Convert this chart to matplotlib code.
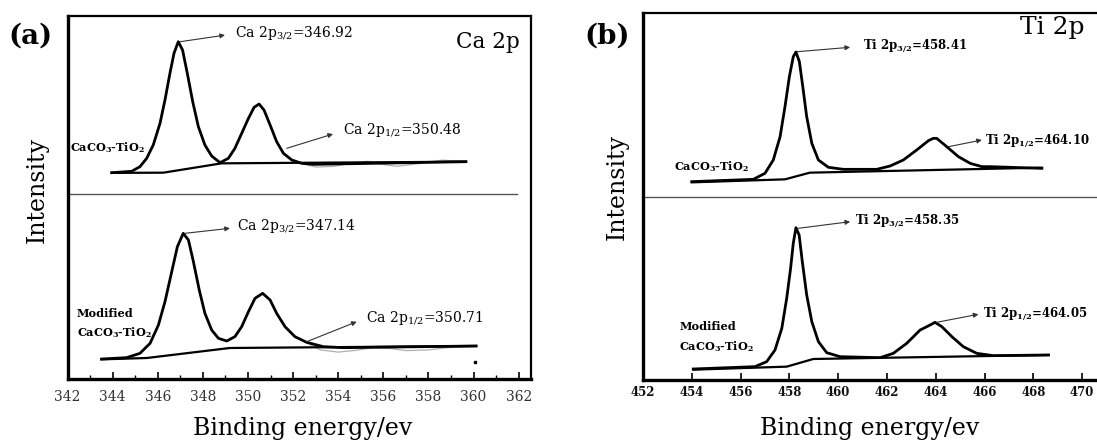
import matplotlib
matplotlib.use("Agg")
import matplotlib.pyplot as plt
from matplotlib.ticker import MultipleLocator

plt.rcParams['font.family'] = ['DejaVu Serif']
plt.rcParams['mathtext.fontset'] = 'dejavuserif'

# ---- Ca 2p, CaCO3-TiO2 (upper trace)
ca_top_x = [343.96, 344.84, 345.21, 345.51, 345.80, 346.10, 346.32, 346.54, 346.72, 346.91,
            347.10, 347.31, 347.55, 347.80, 348.09, 348.39, 348.76, 349.13, 349.42, 349.72,
            350.02, 350.27, 350.49, 350.71, 350.98, 351.27, 351.57, 351.94, 352.38, 352.90, 359.66]
ca_top_y = [56.76, 57.13, 58.41, 60.71, 64.37, 70.34, 76.75, 84.09, 89.59, 92.80,
            90.51, 84.09, 76.29, 69.42, 64.37, 61.35, 59.51, 60.71, 63.46, 67.58,
            71.71, 74.74, 75.65, 74.00, 69.88, 65.29, 62.08, 60.25, 59.33, 59.05, 59.78]
ca_top_bg_x = [343.96, 346.25, 348.83, 359.66]
ca_top_bg_y = [56.70, 56.76, 59.33, 59.78]
# faint raw data visible in the tail
ca_top_raw_x = [352.4, 353.0, 353.8, 354.6, 355.3, 356.0, 356.6, 357.5, 358.6, 359.5]
ca_top_raw_y = [59.3, 58.3, 58.5, 59.4, 59.9, 59.0, 58.5, 59.2, 60.2, 59.9]

# ---- Ca 2p, modified CaCO3-TiO2 (lower trace)
ca_bot_x = [343.51, 344.62, 345.21, 345.66, 346.03, 346.32, 346.62, 346.87, 347.13, 347.36,
            347.58, 347.84, 348.09, 348.39, 348.69, 349.06, 349.42, 349.72, 350.02, 350.31,
            350.65, 350.98, 351.27, 351.64, 352.08, 352.60, 353.34, 354.23, 360.11]
ca_bot_y = [5.50, 5.87, 7.06, 9.81, 14.86, 21.27, 29.53, 36.40, 40.07, 38.24,
            32.28, 24.48, 18.07, 13.48, 11.19, 10.45, 11.65, 14.40, 18.52, 22.19,
            23.57, 21.73, 18.07, 14.40, 11.65, 10.09, 8.89, 8.62, 9.08]
ca_bot_bg_x = [343.51, 345.52, 349.19, 360.11]
ca_bot_bg_y = [5.40, 5.78, 8.53, 9.08]
ca_bot_raw_x = [352.6, 353.2, 354.0, 354.8, 355.5, 356.3, 357.0, 358.0, 358.8, 360.1]
ca_bot_raw_y = [10.0, 8.0, 7.4, 7.9, 8.6, 8.4, 7.8, 8.0, 8.6, 9.1]

# ---- Ti 2p, CaCO3-TiO2 (upper trace)
ti_top_x = [454.00, 456.52, 457.00, 457.34, 457.62, 457.82, 458.00, 458.16, 458.27, 458.41,
            458.55, 458.71, 458.92, 459.19, 459.60, 460.21, 461.58, 462.13, 462.67, 463.22,
            463.70, 463.90, 464.04, 464.45, 464.93, 465.41, 465.89, 466.23, 468.35]
ti_top_y = [54.09, 54.72, 56.36, 59.99, 66.36, 74.54, 82.72, 88.17, 89.45, 86.81,
            79.99, 71.81, 64.54, 59.99, 58.00, 57.45, 57.45, 58.36, 59.99, 62.72,
            65.27, 65.90, 65.90, 63.63, 60.90, 59.09, 58.18, 58.18, 57.72]
ti_top_bg_x = [454.00, 457.82, 458.84, 468.35]
ti_top_bg_y = [53.90, 54.72, 56.54, 57.90]

# ---- Ti 2p, modified CaCO3-TiO2 (lower trace)
ti_bot_x = [454.06, 456.59, 457.07, 457.41, 457.69, 457.89, 458.05, 458.16, 458.27, 458.40,
            458.53, 458.71, 458.92, 459.19, 459.53, 460.08, 461.72, 462.26, 462.81, 463.36,
            463.77, 463.97, 464.25, 464.66, 465.13, 465.68, 466.36, 468.62]
ti_bot_y = [3.00, 3.64, 5.00, 8.18, 14.09, 22.27, 30.45, 37.27, 41.54, 39.54,
            32.27, 23.18, 15.91, 10.45, 7.45, 6.36, 6.09, 7.27, 10.00, 13.63,
            15.00, 15.73, 14.54, 11.82, 9.09, 7.27, 6.64, 6.82]
ti_bot_bg_x = [454.06, 457.89, 458.98, 468.62]
ti_bot_bg_y = [2.82, 3.64, 5.73, 6.82]

ca_ticks = [342, 344, 346, 348, 350, 352, 354, 356, 358, 360, 362]
ti_ticks = [452, 454, 456, 458, 460, 462, 464, 466, 468, 470]

W, H = 1097, 441
fig = plt.figure(figsize=(W / 100, H / 100), dpi=100)

axa = fig.add_axes([67.5 / W, 1 - 379 / H, (530.7 - 67.5) / W, (379 - 15.5) / H])
axb = fig.add_axes([643 / W, 1 - 380 / H, (1097 - 643) / W, (380 - 13.3) / H])


def frame(ax, xlim, ticks, minor, lab_col, lab_w, lab_fs, pad):
    ax.set_xlim(*xlim)
    ax.set_ylim(0, 100)
    ax.set_yticks([])
    ax.set_xticks(ticks)
    if minor:
        ax.xaxis.set_minor_locator(MultipleLocator(1))
    ax.tick_params(axis='x', which='major', direction='in', length=5, width=1.2,
                   pad=pad, labelsize=lab_fs, labelcolor=lab_col)
    ax.tick_params(axis='x', which='minor', direction='in', length=3, width=1)
    for t in ax.get_xticklabels():
        t.set_fontweight(lab_w)
    ax.spines['left'].set_linewidth(2.4)
    ax.spines['bottom'].set_linewidth(2.4)
    ax.spines['top'].set_linewidth(1.6)
    ax.spines['right'].set_linewidth(1.6)


frame(axa, (342, 362.53), ca_ticks, True, '#333333', 'normal', 10, 8)
frame(axb, (452, 470.61), ti_ticks, False, '#111111', 'bold', 8.5, 4.5)
axb.spines['right'].set_visible(False)

# separator lines between stacked spectra
axa.plot([342, 361.92], [50.9, 50.9], color='#555555', lw=1)
axb.plot([452, 470.61], [50.0, 50.0], color='#555555', lw=1)

axa.plot(ca_top_raw_x, ca_top_raw_y, color='#b0b0b0', lw=0.9, zorder=1)
axa.plot(ca_bot_raw_x, ca_bot_raw_y, color='#b0b0b0', lw=0.9, zorder=1)
axa.plot([360.06], [4.7], 's', color='black', ms=2)

for ax, xs, ys, bx, by in [
        (axa, ca_top_x, ca_top_y, ca_top_bg_x, ca_top_bg_y),
        (axa, ca_bot_x, ca_bot_y, ca_bot_bg_x, ca_bot_bg_y),
        (axb, ti_top_x, ti_top_y, ti_top_bg_x, ti_top_bg_y),
        (axb, ti_bot_x, ti_bot_y, ti_bot_bg_x, ti_bot_bg_y)]:
    ax.plot(bx, by, color='black', lw=1.6)
    ax.plot(xs, ys, color='black', lw=2.0, solid_joinstyle='round')


def arrow(ax, tail, head):
    ax.annotate('', xy=head, xytext=tail,
                arrowprops=dict(arrowstyle='-|>', color='#333333', lw=0.8,
                                mutation_scale=7, shrinkA=0, shrinkB=0))


# Ca annotations
arrow(axa, (346.99, 92.79), (348.98, 94.6))
axa.text(349.42, 95.2, r'Ca 2p$_{3/2}$=346.92', fontsize=10, va='center')
arrow(axa, (351.72, 63.47), (353.77, 67.40))
axa.text(354.20, 68.5, r'Ca 2p$_{1/2}$=350.48', fontsize=10, va='center')
arrow(axa, (347.21, 40.08), (349.20, 41.46))
axa.text(349.50, 41.9, r'Ca 2p$_{3/2}$=347.14', fontsize=10, va='center')
arrow(axa, (352.60, 10.26), (354.82, 15.76))
axa.text(355.23, 16.7, r'Ca 2p$_{1/2}$=350.71', fontsize=10, va='center')

axa.text(342.11, 63.7, r'CaCO$_\mathbf{3}$-TiO$_\mathbf{2}$', fontsize=8.1,
         fontweight='bold', va='center')
axa.text(342.40, 17.9, 'Modified', fontsize=8.1, fontweight='bold', va='center')
axa.text(342.40, 12.65, r'CaCO$_\mathbf{3}$-TiO$_\mathbf{2}$', fontsize=8.1,
         fontweight='bold', va='center')
axa.text(362.06, 92.7, 'Ca 2p', fontsize=15.5, ha='right', va='center')

# Ti annotations
arrow(axb, (458.33, 89.53), (460.49, 90.73))
axb.text(461.01, 90.89, r'Ti 2p$_\mathbf{3/2}$=458.41', fontsize=8.5,
         fontweight='bold', va='center')
arrow(axb, (464.52, 63.62), (465.89, 65.45))
axb.text(466.02, 65.18, r'Ti 2p$_\mathbf{1/2}$=464.10', fontsize=8.5,
         fontweight='bold', va='center')
arrow(axb, (458.37, 41.37), (460.49, 43.17))
axb.text(460.69, 43.17, r'Ti 2p$_\mathbf{3/2}$=458.35', fontsize=8.5,
         fontweight='bold', va='center')
arrow(axb, (464.04, 15.73), (465.75, 17.92))
axb.text(465.95, 18.0, r'Ti 2p$_\mathbf{1/2}$=464.05', fontsize=8.5,
         fontweight='bold', va='center')

axb.text(453.27, 58.17, r'CaCO$_\mathbf{3}$-TiO$_\mathbf{2}$', fontsize=8.1,
         fontweight='bold', va='center')
axb.text(453.48, 14.53, 'Modified', fontsize=8.1, fontweight='bold', va='center')
axb.text(453.48, 9.08, r'CaCO$_\mathbf{3}$-TiO$_\mathbf{2}$', fontsize=8.1,
         fontweight='bold', va='center')
axb.text(467.45, 96.0, 'Ti 2p', fontsize=18, ha='left', va='center')

# panel letters and axis titles
fig.text(30 / W, 1 - 36 / H, '(a)', fontsize=20, fontweight='bold', ha='center', va='center')
fig.text(607 / W, 1 - 36 / H, '(b)', fontsize=20, fontweight='bold', ha='center', va='center')
fig.text(37 / W, 1 - 190 / H, 'Intensity', fontsize=17, rotation=90, ha='center', va='center')
fig.text(617 / W, 1 - 187 / H, 'Intensity', fontsize=17, rotation=90, ha='center', va='center')
fig.text(303 / W, 1 - 428 / H, 'Binding energy/ev', fontsize=17, ha='center', va='center')
fig.text(870 / W, 1 - 428 / H, 'Binding energy/ev', fontsize=17, ha='center', va='center')

fig.savefig('out.png', dpi=100)
